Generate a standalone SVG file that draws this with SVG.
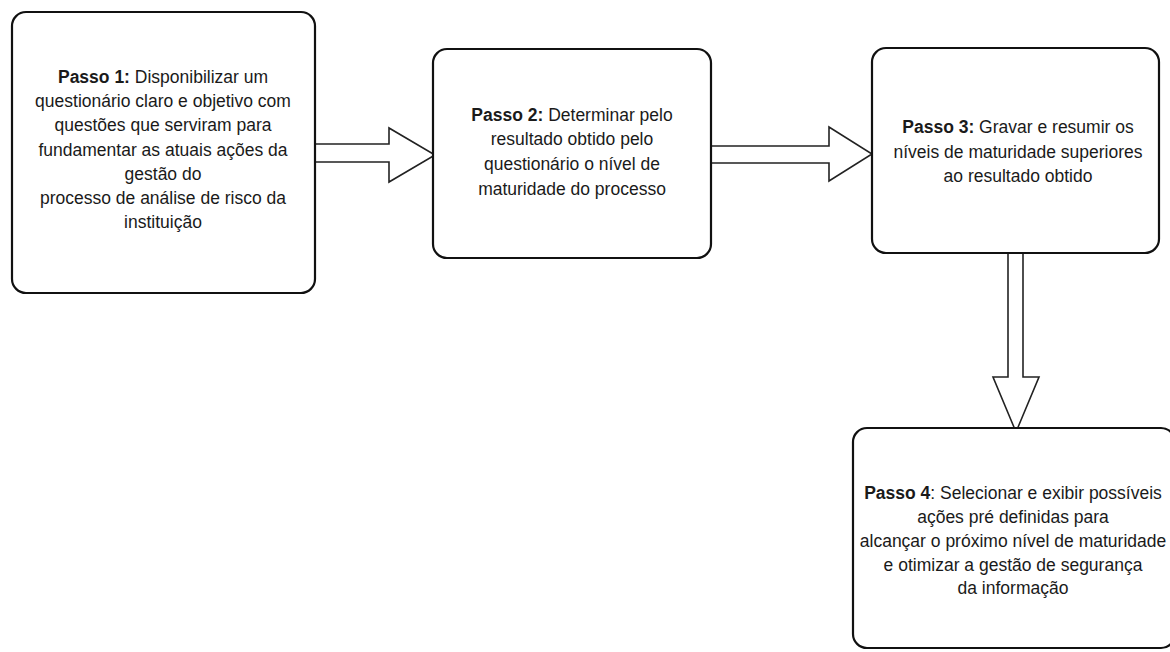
<svg xmlns="http://www.w3.org/2000/svg" width="1170" height="652" viewBox="0 0 1170 652">
<style>
.box{fill:#fff;stroke:#111;stroke-width:2.2}
.arr{fill:#fff;stroke:#222;stroke-width:1.6;stroke-linejoin:miter}
text{font-family:"Liberation Sans",Arial,sans-serif;font-size:17.5px;fill:#1a1a1a;text-anchor:middle}
.b{font-weight:bold}
</style>
<rect width="1170" height="652" fill="#fff"/>
<g id="connectors">
<polygon class="arr" points="315,144 389,144 389,128 435,155 389,182 389,162 315,162"/>
<polygon class="arr" points="711,146 829,146 829,127 872,154 829,181 829,163 711,163"/>
<polygon class="arr" points="1008,253 1008,377 993,377 1016,432 1039,377 1023,377 1023,253"/>
</g>
<g id="step1">
<rect class="box" x="12" y="12" width="303" height="281" rx="14"/>
<text x="163" y="83"><tspan class="b">Passo 1:</tspan> Disponibilizar um</text>
<text x="163" y="107">questionário claro e objetivo com</text>
<text x="163" y="131">questões  que serviram para</text>
<text x="163" y="156">fundamentar as  atuais  ações  da</text>
<text x="163" y="180">gestão do</text>
<text x="163" y="204">processo de análise de risco da</text>
<text x="163" y="228">instituição</text>
</g>
<g id="step2">
<rect class="box" x="433" y="49" width="278" height="209" rx="14"/>
<text x="572" y="121"><tspan class="b">Passo 2:</tspan> Determinar pelo</text>
<text x="572" y="145">resultado obtido pelo</text>
<text x="572" y="170">questionário o nível de</text>
<text x="572" y="195">maturidade do processo</text>
</g>
<g id="step3">
<rect class="box" x="872" y="48" width="287" height="205" rx="14"/>
<text x="1018" y="133"><tspan class="b">Passo 3:</tspan> Gravar e resumir os</text>
<text x="1018" y="158">níveis  de maturidade superiores</text>
<text x="1018" y="182">ao resultado obtido</text>
</g>
<g id="step4">
<rect class="box" x="853" y="428" width="322" height="220" rx="14"/>
<text x="1013" y="499"><tspan class="b">Passo 4</tspan>: Selecionar e exibir possíveis</text>
<text x="1013" y="523">ações  pré definidas  para</text>
<text x="1013" y="547">alcançar o próximo nível de maturidade</text>
<text x="1013" y="571">e otimizar a gestão de segurança</text>
<text x="1013" y="594">da informação</text>
</g>
</svg>
